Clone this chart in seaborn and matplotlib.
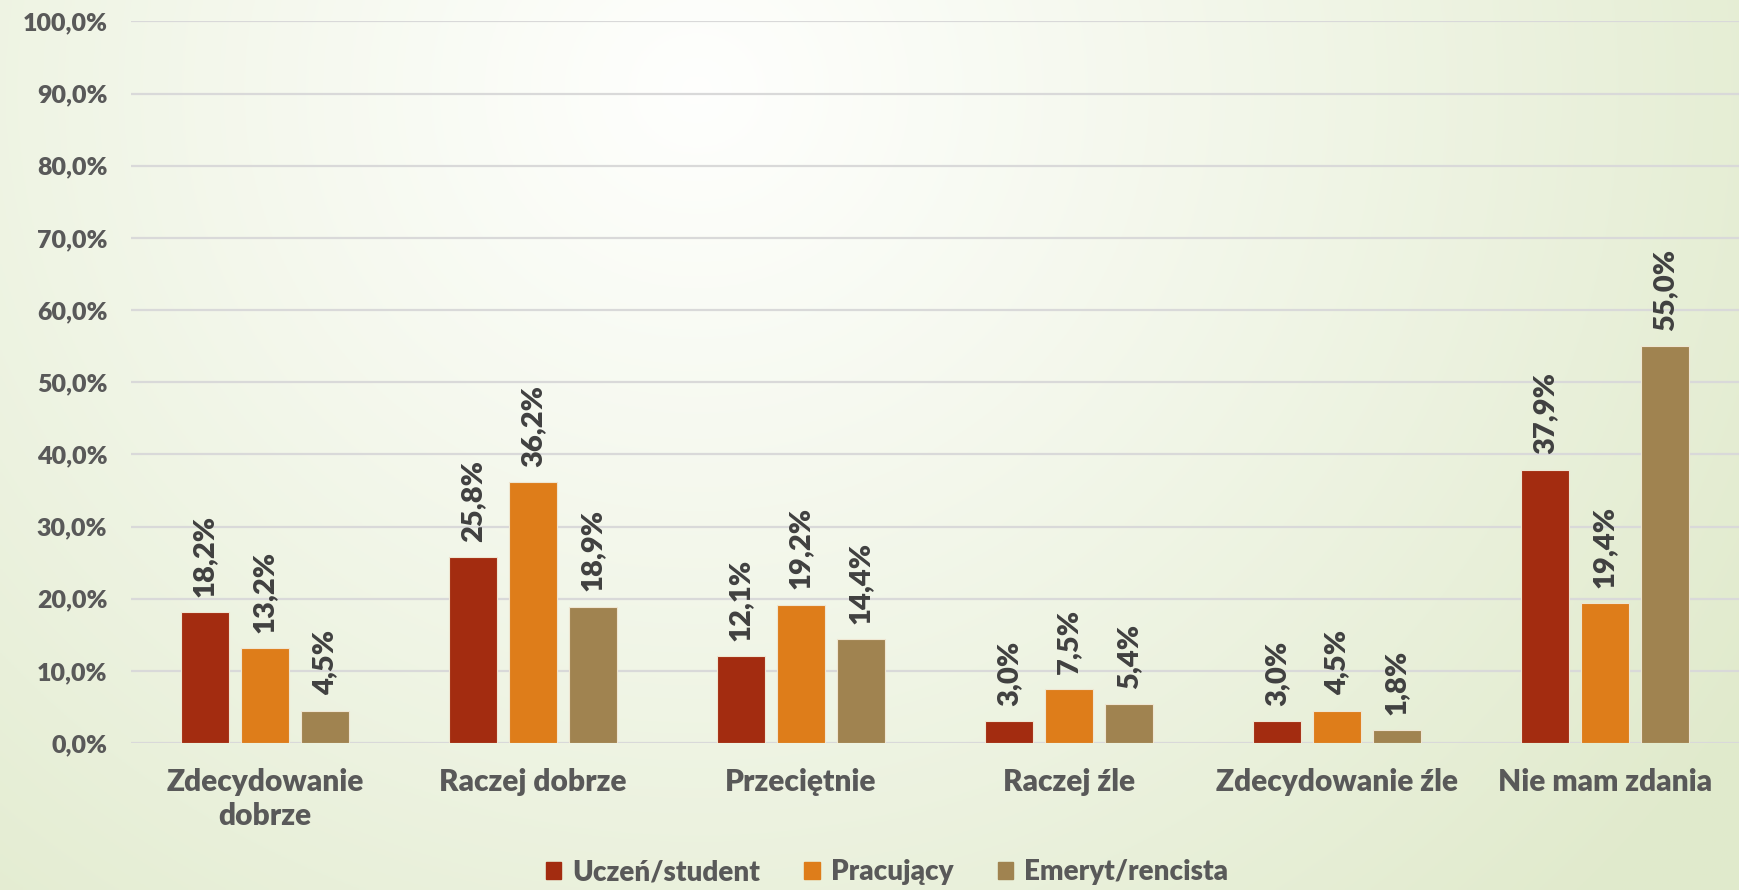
import numpy as np
import pandas as pd
import matplotlib
matplotlib.use("Agg")
import matplotlib.pyplot as plt
from matplotlib.font_manager import FontProperties
import seaborn as sns

categories = ["Zdecydowanie\ndobrze", "Raczej dobrze", "Przeciętnie", "Raczej źle",
              "Zdecydowanie źle", "Nie mam zdania"]
series_names = ["Uczeń/student", "Pracujący", "Emeryt/rencista"]
uczen = [18.2, 25.8, 12.1, 3.0, 3.0, 37.9]
pracujacy = [13.2, 36.2, 19.2, 7.5, 4.5, 19.4]
emeryt = [4.5, 18.9, 14.4, 5.4, 1.8, 55.0]
colors = ["#A32C10", "#DE7D1A", "#A08350"]
yticks = [0, 10, 20, 30, 40, 50, 60, 70, 80, 90, 100]

rows = []
for name, vals in zip(series_names, [uczen, pracujacy, emeryt]):
    for c, v in zip(categories, vals):
        rows.append({"cat": c, "val": v, "grp": name})
df = pd.DataFrame(rows)

sns.set_theme(style="white")
plt.rcParams["font.family"] = ["Lato", "DejaVu Sans"]
plt.rcParams["font.weight"] = "bold"

fam = ["Lato", "DejaVu Sans"]
fp_tick = FontProperties(family=fam, weight="heavy", size=18)
fp_cat = FontProperties(family=fam, weight="heavy", size=21.5)
fp_lab = FontProperties(family=fam, weight="heavy", size=21)
fp_leg = FontProperties(family=fam, weight="heavy", size=20)

fig = plt.figure(figsize=(17.39, 8.90), dpi=100)

# background gradient
bg = fig.add_axes([0, 0, 1, 1], zorder=-10)
H, W = 300, 600
yy, xx = np.mgrid[0:H, 0:W]
cx, cy = 0.40 * W, 0.10 * H
d = np.sqrt(((xx - cx) / W) ** 2 + ((yy - cy) / H * 0.55) ** 2)
d = np.clip(d / 0.72, 0, 1) ** 1.1
c0 = np.array([0.997, 0.999, 0.992])
c1 = np.array([0.880, 0.918, 0.800])
img = c0[None, None, :] * (1 - d[..., None]) + c1[None, None, :] * d[..., None]
bg.imshow(img, aspect="auto", extent=[0, 1, 0, 1], origin="upper")
bg.axis("off")

ax = fig.add_axes([0.0753, 0.165, 0.9247, 0.811])
ax.set_facecolor("none")
sns.barplot(data=df, x="cat", y="val", hue="grp", palette=colors, width=0.67, gap=0.2,
            saturation=1, ax=ax, edgecolor="#EFE6D2", linewidth=0.8, errorbar=None,
            zorder=3)

ax.set_xlim(-0.5, 5.5)
ax.set_ylim(0, 100)
ax.set_yticks(yticks)
ax.set_yticklabels([f"{t:.1f}%".replace(".", ",") for t in yticks],
                   fontproperties=fp_tick, color="#595959")
ax.set_xticks(range(len(categories)))
ax.set_xticklabels(categories, fontproperties=fp_cat, color="#595959", linespacing=1.25)
ax.tick_params(axis="y", length=0, pad=17)
ax.tick_params(axis="x", length=0, pad=18)
ax.set_xlabel("")
ax.set_ylabel("")
ax.grid(axis="y", color="#D9D9D9", linewidth=1.6, zorder=0)
ax.set_axisbelow(True)
for s in ax.spines.values():
    s.set_visible(False)

for cont in ax.containers:
    labels = [f"{b.get_height():.1f}%".replace(".", ",") for b in cont]
    ax.bar_label(cont, labels=labels, rotation=90, padding=11,
                 fontproperties=fp_lab, color="#404040")

ax.legend_.remove()
handles = [plt.Rectangle((0, 0), 1, 1, color=c) for c in colors]
leg = fig.legend(handles, series_names, loc="center", bbox_to_anchor=(0.51, 0.02), ncol=3,
                 frameon=False, prop=fp_leg, handlelength=0.55, handleheight=0.55,
                 handletextpad=0.4, columnspacing=1.6)
for t in leg.get_texts():
    t.set_color("#595959")

fig.savefig("out.png", dpi=100)
